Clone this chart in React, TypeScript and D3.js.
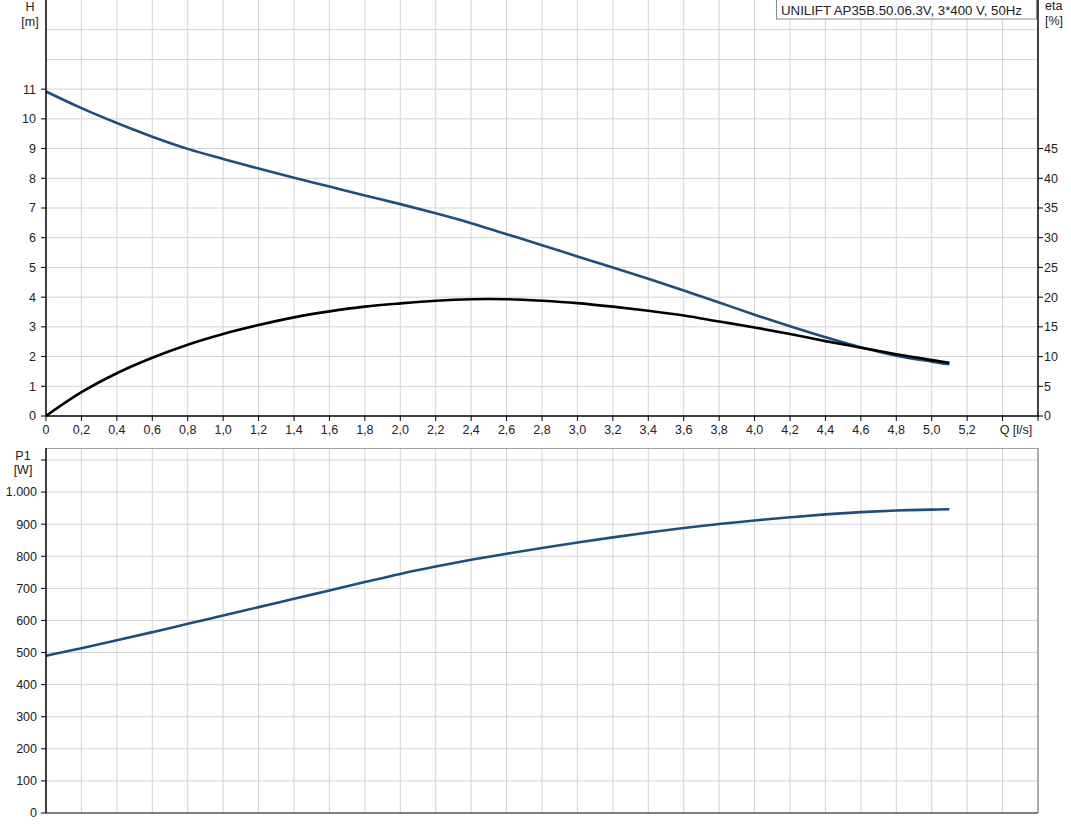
import React from "react";
import * as d3 from "d3";

const qValues = [0, 0.2, 0.4, 0.6, 0.8, 1.0, 1.2, 1.4, 1.6, 1.8, 2.0, 2.2, 2.4, 2.6, 2.8, 3.0, 3.2, 3.4, 3.6, 3.8, 4.0, 4.2, 4.4, 4.6, 4.8, 5.0, 5.1];
const headValues = [10.92, 10.36, 9.86, 9.4, 8.99, 8.65, 8.33, 8.02, 7.72, 7.42, 7.13, 6.82, 6.49, 6.12, 5.75, 5.37, 5.0, 4.62, 4.22, 3.82, 3.41, 3.02, 2.65, 2.31, 2.03, 1.83, 1.74];
const etaValues = [0, 4.0, 7.2, 9.8, 12.0, 13.8, 15.3, 16.6, 17.6, 18.4, 18.95, 19.4, 19.65, 19.65, 19.4, 19.0, 18.4, 17.7, 16.9, 15.9, 14.9, 13.8, 12.6, 11.5, 10.4, 9.4, 8.95];
const powerValues = [490, 513.5, 538, 563.5, 589.5, 615.5, 641.5, 667.5, 693.5, 719.5, 745, 768, 789, 808, 826, 843, 859, 874, 888, 900.5, 911.5, 921.5, 930.5, 937.5, 942.5, 945.5, 946.5];

const qTicks = [0, 0.2, 0.4, 0.6, 0.8, 1.0, 1.2, 1.4, 1.6, 1.8, 2.0, 2.2, 2.4, 2.6, 2.8, 3.0, 3.2, 3.4, 3.6, 3.8, 4.0, 4.2, 4.4, 4.6, 4.8, 5.0, 5.2, 5.4, 5.6];
const qLabelTicks = [0, 0.2, 0.4, 0.6, 0.8, 1.0, 1.2, 1.4, 1.6, 1.8, 2.0, 2.2, 2.4, 2.6, 2.8, 3.0, 3.2, 3.4, 3.6, 3.8, 4.0, 4.2, 4.4, 4.6, 4.8, 5.0, 5.2];
const hTicks = [0, 1, 2, 3, 4, 5, 6, 7, 8, 9, 10, 11];
const hGrid = [1, 2, 3, 4, 5, 6, 7, 8, 9, 10, 11, 12, 13];
const etaTicks = [0, 5, 10, 15, 20, 25, 30, 35, 40, 45];
const pTicks = [0, 100, 200, 300, 400, 500, 600, 700, 800, 900, 1000, 1100];
const pLabelTicks = [0, 100, 200, 300, 400, 500, 600, 700, 800, 900, 1000];

const title = "UNILIFT AP35B.50.06.3V,  3*400 V,  50Hz";

const FONT = "'Liberation Sans', Arial, sans-serif";
const GRID = "#d3d3d3";
const BLUE = "#1d4e7f";

export default function App() {
  const left = 46;
  const right = 1038;
  const x = d3.scaleLinear().domain([0, 5.6]).range([left, right]);
  const yH = d3.scaleLinear().domain([0, 14]).range([416, 0]);
  const yEta = d3.scaleLinear().domain([0, 70]).range([416, 0]);
  const yP = d3.scaleLinear().domain([0, 1100]).range([813, 460]);

  const fmtQ = (v: number) => (v === 0 ? "0" : d3.format(".1f")(v).replace(".", ","));
  const fmtP = (v: number) => (v >= 1000 ? d3.format(",")(v).replace(",", ".") : String(v));

  const idx = qValues.map((_, i) => i);
  const curve = d3.curveCatmullRom.alpha(0.5);
  const hLine = d3.line<number>().x((i) => x(qValues[i])).y((i) => yH(headValues[i])).curve(curve);
  const etaLine = d3.line<number>().x((i) => x(qValues[i])).y((i) => yEta(etaValues[i])).curve(curve);
  const pLine = d3.line<number>().x((i) => x(qValues[i])).y((i) => yP(powerValues[i])).curve(curve);

  const topY0 = yH(0);
  const botTop = 448;
  const botY0 = yP(0);

  return (
    <svg width={1071} height={833} style={{ position: "absolute", left: 0, top: 0, background: "#fff" }} fontFamily={FONT} fontSize={12.5}>
      <rect x={0} y={0} width={1071} height={833} fill="#fff" />
      {/* ---------- top panel ---------- */}
      {qTicks.filter((q) => q > 0 && q < 5.6).map((q) => (
        <line key={"tv" + q} x1={x(q)} x2={x(q)} y1={0} y2={topY0} stroke={GRID} strokeWidth={1} />
      ))}
      {hGrid.map((h) => (
        <line key={"th" + h} x1={left} x2={right} y1={yH(h)} y2={yH(h)} stroke={GRID} strokeWidth={1} />
      ))}
      <path d={hLine(idx) || ""} fill="none" stroke={BLUE} strokeWidth={2.6} />
      <path d={etaLine(idx) || ""} fill="none" stroke="#000" strokeWidth={2.6} />
      {/* axes */}
      <line x1={left} x2={left} y1={0} y2={topY0} stroke="#000" strokeWidth={1.5} />
      <line x1={right} x2={right} y1={0} y2={topY0} stroke="#000" strokeWidth={1.5} />
      <line x1={left} x2={right + 1} y1={topY0} y2={topY0} stroke="#000" strokeWidth={1.5} />
      {hTicks.map((h) => (
        <g key={"hl" + h}>
          <line x1={left - 5} x2={left} y1={yH(h)} y2={yH(h)} stroke="#000" />
          <text x={36} y={yH(h)} dy="0.35em" textAnchor="end" fill="#222">{h}</text>
        </g>
      ))}
      {etaTicks.map((e) => (
        <g key={"el" + e}>
          <line x1={right} x2={right + 5} y1={yEta(e)} y2={yEta(e)} stroke="#000" />
          <text x={1044} y={yEta(e)} dy="0.35em" textAnchor="start" fill="#222">{e}</text>
        </g>
      ))}
      {qTicks.map((q) => (
        <line key={"qt" + q} x1={x(q)} x2={x(q)} y1={topY0} y2={topY0 + 5} stroke="#000" />
      ))}
      {qLabelTicks.map((q) => (
        <text key={"ql" + q} x={x(q)} y={434} textAnchor="middle" fill="#222">{fmtQ(q)}</text>
      ))}
      <text x={1016} y={434} textAnchor="middle" fill="#222">Q [l/s]</text>
      <text x={30} y={11} textAnchor="middle" fill="#222">H</text>
      <text x={30} y={26} textAnchor="middle" fill="#222">[m]</text>
      <text x={1045} y={10} textAnchor="start" fill="#222">eta</text>
      <text x={1045} y={25} textAnchor="start" fill="#222">[%]</text>
      {/* legend */}
      <rect x={776.5} y={-1} width={260} height={20} fill="#fff" stroke="#8a8a8a" strokeWidth={1} />
      <text x={781} y={15} fill="#222" textLength={241} lengthAdjust="spacingAndGlyphs">{title}</text>

      {/* ---------- bottom panel ---------- */}
      {qTicks.filter((q) => q > 0 && q < 5.6).map((q) => (
        <line key={"bv" + q} x1={x(q)} x2={x(q)} y1={botTop} y2={botY0} stroke={GRID} strokeWidth={1} />
      ))}
      {pTicks.filter((p) => p > 0).map((p) => (
        <line key={"bh" + p} x1={left} x2={right} y1={yP(p)} y2={yP(p)} stroke={GRID} strokeWidth={1} />
      ))}
      <line x1={left} x2={right} y1={botTop + 0.5} y2={botTop + 0.5} stroke="#a0a0a0" strokeWidth={1} />
      <line x1={right} x2={right} y1={botTop} y2={botY0} stroke="#777" strokeWidth={1.2} />
      <line x1={left} x2={right} y1={botY0} y2={botY0} stroke="#555" strokeWidth={1.3} />
      <path d={pLine(idx) || ""} fill="none" stroke={BLUE} strokeWidth={2.6} />
      <line x1={left} x2={left} y1={botTop} y2={botY0} stroke="#000" strokeWidth={1.5} />
      {pTicks.map((p) => (
        <line key={"pt" + p} x1={left - 5} x2={left} y1={yP(p)} y2={yP(p)} stroke="#000" />
      ))}
      {pLabelTicks.map((p) => (
        <text key={"pl" + p} x={37} y={yP(p)} dy="0.35em" textAnchor="end" fill="#222">{fmtP(p)}</text>
      ))}
      <text x={23} y={460} textAnchor="middle" fill="#222">P1</text>
      <text x={23} y={474} textAnchor="middle" fill="#222">[W]</text>
    </svg>
  );
}
